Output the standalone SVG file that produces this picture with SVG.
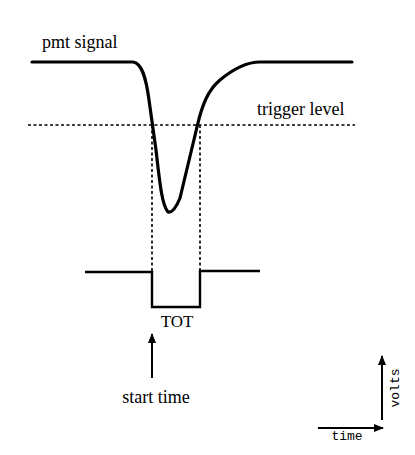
<svg xmlns="http://www.w3.org/2000/svg" width="415" height="455" viewBox="0 0 415 455">
<style>
.lbl{font-family:"Liberation Serif","Times New Roman",serif;font-size:18px;fill:#000}
.mono{font-family:"Liberation Mono","Courier New",monospace;font-size:13px;fill:#000}
.dot{fill:none;stroke:#000;stroke-width:1.6;stroke-dasharray:3 2.5}
.sig{fill:none;stroke:#000;stroke-width:3.2;stroke-linejoin:round;stroke-linecap:round}
.pulse{fill:none;stroke:#000;stroke-width:2.4}
.arr{fill:none;stroke:#000;stroke-width:2}
</style>
<defs>
<marker id="ah" viewBox="0 0 10 8" refX="9" refY="4" markerWidth="10" markerHeight="8" markerUnits="userSpaceOnUse" orient="auto">
<path d="M0,0 L10,4 L0,8 Z" fill="#000"/>
</marker>
</defs>
<g id="connectors">
<path class="dot" d="M28,125 H355"/>
<path class="dot" d="M152,125 V272"/>
<path class="dot" d="M200,125 V272"/>
<path class="arr" d="M152,378 V334" marker-end="url(#ah)"/>
<path class="arr" d="M382,420 V356" marker-end="url(#ah)"/>
<path class="arr" d="M318,428 H383" marker-end="url(#ah)"/>
</g>
<g id="pmt-signal">
<path class="sig" d="M32,62 H133 C142,63 146,78 149,100 L156,150 C160,185 162,205 168,212 C172,213 176,208 180,198 L197,127 C202,105 208,90 220,80 C232,70 245,62 260,62 H352"/>
<text class="lbl" x="42" y="48">pmt signal</text>
</g>
<g id="trigger-level">
<text class="lbl" x="257" y="115">trigger level</text>
</g>
<g id="tot-pulse">
<path class="pulse" d="M85,272 H152 V307 H200 V271 H260"/>
<text class="lbl" x="177" y="327" text-anchor="middle" style="font-size:17px">TOT</text>
</g>
<g id="start-time">
<text class="lbl" x="156" y="403" text-anchor="middle">start time</text>
</g>
<g id="axes">
<text class="mono" x="347" y="440" text-anchor="middle">time</text>
<text class="mono" transform="translate(399,388) rotate(-90)" text-anchor="middle">volts</text>
</g>
</svg>
